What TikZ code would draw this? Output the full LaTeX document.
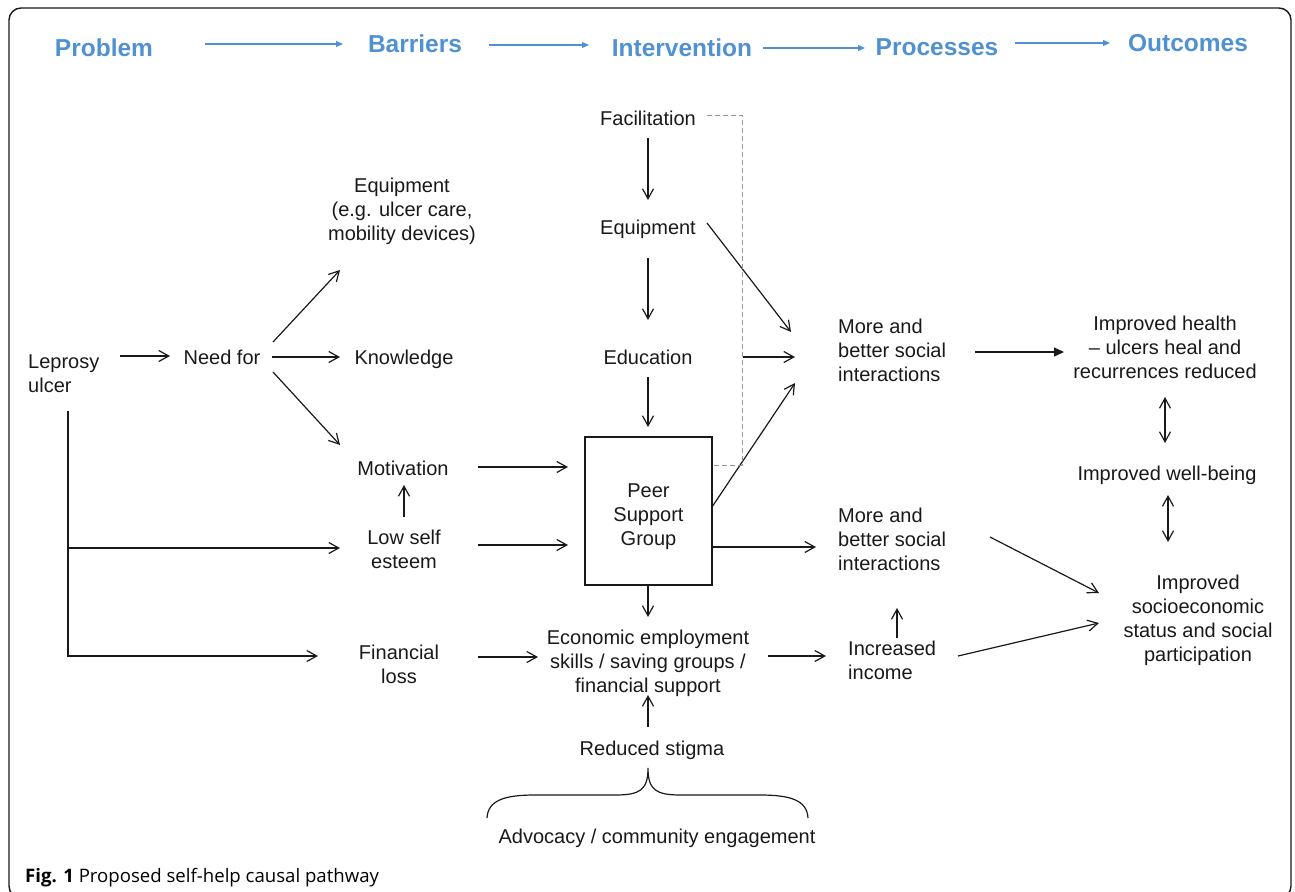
\documentclass[tikz,border=0pt]{standalone}
\usepackage{fontspec}
\setmainfont{Liberation Sans}
\newfontfamily\capfont{Open Sans}
\usetikzlibrary{arrows.meta,calc}
\definecolor{hblue}{RGB}{80,145,210}
\definecolor{ink}{RGB}{25,25,25}
\definecolor{dgray}{RGB}{150,150,150}
\begin{document}
\begin{tikzpicture}[x=1pt,y=-1pt,
  every node/.style={inner sep=0pt, text=ink},
  lbl/.style={font=\fontsize{20}{24}\selectfont, align=center},
  lbll/.style={font=\fontsize{20}{24}\selectfont, align=left, anchor=west},
  hdr/.style={font=\fontsize{24.5}{28}\selectfont\bfseries, text=hblue},
  harr/.style={draw=hblue, line width=1.1pt, -{Triangle[length=7pt,width=6pt]}},
  arr/.style={draw=ink, line width=1.2pt, -{Straight Barb[length=10pt,width=11pt]}},
  darr/.style={draw=ink, line width=1.2pt, {Straight Barb[length=10pt,width=11pt]}-{Straight Barb[length=10pt,width=11pt]}},
  farr/.style={draw=ink, line width=1.2pt, -{Triangle[length=10pt,width=9pt]}},
  plainln/.style={draw=ink, line width=1.2pt},
  dashln/.style={draw=dgray, line width=1pt, dash pattern=on 5pt off 3pt},
  boxst/.style={draw=ink, line width=1.2pt, minimum width=127pt, minimum height=148pt}
]
\useasboundingbox (0,0) rectangle (1295,891);
\begin{scope}
  \clip (0,0) rectangle (1295,891);
  \draw[line width=1.4pt, rounded corners=12pt, draw=ink] (9,8) rectangle (1291,898);
\end{scope}

% header
\node[hdr] (prob) at (104,48) {Problem};
\node[hdr] (barr) at (415,44) {Barriers};
\node[hdr] (interv) at (682,48) {Intervention};
\node[hdr] (proc) at (937,47) {Processes};
\node[hdr] (outc) at (1188,43) {Outcomes};
\draw[harr] ($(prob)+(101,-4)$) -- ($(barr)+(-72,0)$);
\draw[harr] ($(barr)+(74,1)$) -- ($(interv)+(-93,-3)$);
\draw[harr] ($(interv)+(81,0)$) -- ($(proc)+(-72,1)$);
\draw[harr] ($(proc)+(78,-4)$) -- ($(outc)+(-78,0)$);

% nodes
\node[lbll] (lep) at (28,374) {Leprosy\\ulcer};
\node[lbl] (need) at (222,357) {Need for};
\node[lbl] (eqb) at (402,211) {Equipment\\(e.g. ulcer care,\\mobility devices)};
\node[lbl] (know) at (404,359) {Knowledge};
\node[lbl] (mot) at (403,468) {Motivation};
\node[lbl] (low) at (404,549) {Low self\\esteem};
\node[lbl] (fin) at (399,664) {Financial\\loss};
\node[lbl] (fac) at (648,118) {Facilitation};
\node[lbl] (eqi) at (648,229) {Equipment};
\node[lbl] (edu) at (648,357) {Education};
\node[boxst] (peer) at (648.5,511) {};
\node[lbl] (peerlbl) at (648.5,517) {Peer\\Support\\Group};
\node[lbl] (econ) at (648,663) {Economic employment\\skills / saving groups /\\financial support};
\node[lbl] (red) at (652,750) {Reduced stigma};
\node[lbl] (adv) at (657,838) {Advocacy / community engagement};
\node[lbll] (more1) at (838,350) {More and\\better social\\interactions};
\node[lbll] (more2) at (838,539) {More and\\better social\\interactions};
\node[lbll] (inc) at (848,660) {Increased\\income};
\node[lbl] (health) at (1165,347) {Improved health\\-- ulcers heal and\\recurrences reduced};
\node[lbl] (well) at (1167,475) {Improved well-being};
\node[lbl] (socio) at (1198,620) {Improved\\socioeconomic\\status and social\\participation};

% connectors
\draw[arr] ($(lep.west)+(92,-18)$) -- ($(need)+(-52,-1)$);
\draw[arr] ($(need)+(50,0)$) -- ($(know)+(-64,-2)$);
\draw[arr] ($(need)+(51,-15)$) -- ($(eqb)+(-62,59)$);
\draw[arr] ($(need)+(51,15)$) -- ($(mot)+(-63,-23)$);
\draw[arr] ($(low)+(0,-32)$) -- ($(mot)+(1,17)$);
\draw[arr] ($(lep.west)+(40,37)$) |- ($(low)+(-64,-1)$);
\draw[arr] ($(lep.west)+(40,37)$) |- ($(fin)+(-81,-8)$);
\draw[arr] ($(mot)+(75,-1)$) -- ($(peer)+(-80.5,-44)$);
\draw[arr] ($(low)+(74,-4)$) -- ($(peer)+(-80.5,34)$);
\draw[arr] ($(fin)+(79,-7)$) -- ($(econ)+(-110,-6)$);
\draw[arr] ($(fac)+(0,20)$) -- ($(eqi)+(0,-29)$);
\draw[arr] ($(eqi)+(0,29)$) -- ($(edu)+(0,-37)$);
\draw[arr] ($(edu)+(0,20)$) -- ($(peer)+(-0.5,-84)$);
\draw[arr] ($(peer)+(-0.5,74)$) -- ($(econ)+(0,-46)$);
\draw[arr] ($(red)+(-4,-23)$) -- ($(econ)+(0,32)$);
\draw[arr] ($(econ)+(120,-7)$) -- ($(inc.west)+(-22,-4)$);
\draw[arr] ($(inc.west)+(49,-22)$) -- ($(more2.west)+(59,69)$);
\draw[arr] ($(eqi)+(59,-6)$) -- ($(more1.west)+(-47,-18)$);
\draw[arr] ($(edu)+(95,0)$) -- ($(more1.west)+(-43,7)$);
\draw[arr] ($(peer)+(63.5,-4)$) -- ($(more1.west)+(-43,33)$);
\draw[arr] ($(peer)+(63.5,36)$) -- ($(more2.west)+(-22,8)$);
\draw[farr] ($(more1.west)+(137,2)$) -- ($(health)+(-101,5)$);
\draw[darr] ($(health)+(0,50)$) -- ($(well)+(-2,-32)$);
\draw[darr] ($(well)+(1,20)$) -- ($(socio)+(-30,-78)$);
\draw[arr] ($(more2.west)+(152,-2)$) -- ($(socio)+(-99,-27)$);
\draw[arr] ($(inc.west)+(110,-4)$) -- ($(socio)+(-99,3)$);
\draw[dashln] ($(fac)+(59,-3)$) -| ($(peer)+(93.5,-46)$) -- ($(peer)+(63.5,-46)$);

% brace
\draw[plainln] (487,818) .. controls (488,800) and (505,795) .. (535,795) -- (615,795)
  .. controls (640,795) and (648,790) .. (648,768)
  .. controls (648,790) and (656,795) .. (681,795) -- (760,795)
  .. controls (790,795) and (807,800) .. (808,818);

% caption
\node[anchor=base west, font=\capfont\fontsize{18.6}{22}\selectfont, text=black] (cap) at (25,882) {\textbf{Fig. 1} Proposed self-help causal pathway};
\end{tikzpicture}
\end{document}
